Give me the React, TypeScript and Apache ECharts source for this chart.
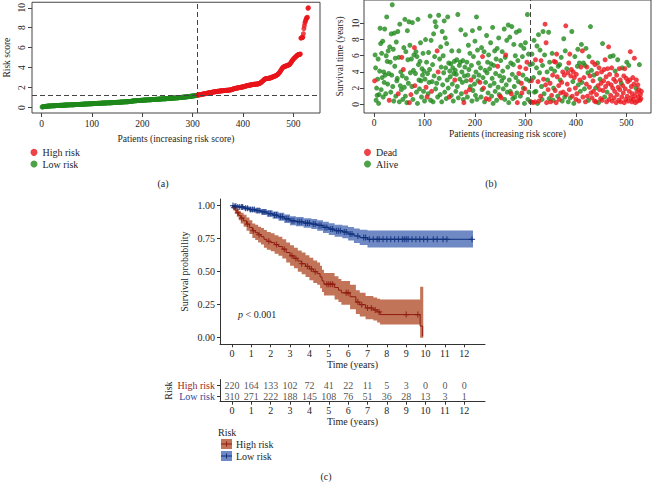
import React, { useEffect, useRef } from "react";
import * as echarts from "echarts";

// ---------- Panel (a): sorted risk scores (patients 1..530) ----------
const riskScores = [
  0.05, 0.07, 0.08, 0.09, 0.10, 0.11, 0.11, 0.12, 0.12, 0.13,
  0.13, 0.14, 0.14, 0.15, 0.15, 0.15, 0.16, 0.16, 0.16, 0.17,
  0.17, 0.17, 0.18, 0.18, 0.18, 0.19, 0.19, 0.19, 0.20, 0.20,
  0.20, 0.20, 0.21, 0.21, 0.21, 0.22, 0.22, 0.22, 0.22, 0.23,
  0.23, 0.23, 0.23, 0.24, 0.24, 0.24, 0.24, 0.25, 0.25, 0.25,
  0.25, 0.26, 0.26, 0.26, 0.26, 0.27, 0.27, 0.27, 0.27, 0.28,
  0.28, 0.28, 0.28, 0.29, 0.29, 0.29, 0.29, 0.30, 0.30, 0.30,
  0.30, 0.31, 0.31, 0.31, 0.31, 0.32, 0.32, 0.32, 0.32, 0.33,
  0.33, 0.33, 0.34, 0.34, 0.34, 0.34, 0.35, 0.35, 0.35, 0.36,
  0.36, 0.36, 0.36, 0.37, 0.37, 0.37, 0.38, 0.38, 0.38, 0.39,
  0.39, 0.39, 0.39, 0.40, 0.40, 0.40, 0.41, 0.41, 0.41, 0.41,
  0.42, 0.42, 0.42, 0.42, 0.43, 0.43, 0.43, 0.43, 0.44, 0.44,
  0.44, 0.44, 0.45, 0.45, 0.45, 0.45, 0.46, 0.46, 0.46, 0.46,
  0.47, 0.47, 0.47, 0.47, 0.48, 0.48, 0.48, 0.48, 0.49, 0.49,
  0.49, 0.49, 0.50, 0.50, 0.50, 0.51, 0.51, 0.51, 0.52, 0.52,
  0.52, 0.52, 0.53, 0.53, 0.53, 0.54, 0.54, 0.54, 0.55, 0.55,
  0.55, 0.56, 0.56, 0.56, 0.57, 0.57, 0.57, 0.58, 0.58, 0.58,
  0.59, 0.59, 0.59, 0.60, 0.60, 0.61, 0.61, 0.62, 0.63, 0.64,
  0.65, 0.66, 0.66, 0.67, 0.67, 0.68, 0.68, 0.69, 0.69, 0.70,
  0.70, 0.70, 0.71, 0.71, 0.71, 0.72, 0.72, 0.72, 0.73, 0.73,
  0.73, 0.74, 0.74, 0.74, 0.75, 0.75, 0.75, 0.76, 0.76, 0.76,
  0.77, 0.77, 0.77, 0.78, 0.78, 0.78, 0.79, 0.79, 0.79, 0.80,
  0.80, 0.80, 0.81, 0.81, 0.81, 0.82, 0.82, 0.82, 0.83, 0.83,
  0.83, 0.84, 0.84, 0.84, 0.85, 0.85, 0.85, 0.86, 0.86, 0.86,
  0.87, 0.87, 0.87, 0.88, 0.88, 0.88, 0.89, 0.89, 0.89, 0.90,
  0.90, 0.90, 0.91, 0.91, 0.92, 0.92, 0.92, 0.93, 0.93, 0.94,
  0.94, 0.94, 0.95, 0.95, 0.96, 0.96, 0.96, 0.97, 0.97, 0.98,
  0.98, 0.99, 0.99, 1.00, 1.00, 1.01, 1.01, 1.02, 1.02, 1.03,
  1.03, 1.04, 1.04, 1.05, 1.05, 1.06, 1.07, 1.07, 1.08, 1.08,
  1.09, 1.10, 1.10, 1.11, 1.12, 1.12, 1.13, 1.14, 1.15, 1.15,
  1.16, 1.17, 1.18, 1.18, 1.19, 1.20, 1.21, 1.22, 1.23, 1.24,
  1.25, 1.26, 1.27, 1.28, 1.29, 1.30, 1.31, 1.32, 1.33, 1.34,
  1.35, 1.36, 1.37, 1.38, 1.39, 1.40, 1.41, 1.42, 1.43, 1.44,
  1.45, 1.46, 1.47, 1.48, 1.49, 1.50, 1.51, 1.52, 1.53, 1.54,
  1.55, 1.56, 1.57, 1.58, 1.58, 1.59, 1.60, 1.61, 1.62, 1.62,
  1.63, 1.64, 1.65, 1.65, 1.66, 1.67, 1.67, 1.68, 1.68, 1.69,
  1.69, 1.70, 1.70, 1.71, 1.71, 1.72, 1.72, 1.73, 1.73, 1.74,
  1.74, 1.75, 1.75, 1.76, 1.76, 1.77, 1.78, 1.80, 1.82, 1.84,
  1.86, 1.88, 1.90, 1.91, 1.92, 1.93, 1.94, 1.95, 1.96, 1.97,
  1.98, 1.99, 2.00, 2.01, 2.02, 2.03, 2.04, 2.05, 2.06, 2.07,
  2.08, 2.09, 2.10, 2.12, 2.14, 2.16, 2.18, 2.19, 2.20, 2.21,
  2.22, 2.23, 2.24, 2.25, 2.26, 2.27, 2.28, 2.29, 2.30, 2.31,
  2.32, 2.33, 2.33, 2.34, 2.34, 2.35, 2.35, 2.36, 2.36, 2.37,
  2.38, 2.40, 2.42, 2.45, 2.48, 2.52, 2.56, 2.60, 2.65, 2.70,
  2.75, 2.80, 2.84, 2.86, 2.88, 2.89, 2.90, 2.90, 2.91, 2.92,
  2.93, 2.94, 2.95, 2.96, 2.98, 3.00, 3.02, 3.04, 3.06, 3.08,
  3.10, 3.12, 3.14, 3.16, 3.18, 3.20, 3.24, 3.28, 3.32, 3.36,
  3.42, 3.48, 3.55, 3.62, 3.70, 3.78, 3.86, 3.94, 4.00, 4.05,
  4.08, 4.10, 4.12, 4.14, 4.16, 4.18, 4.20, 4.22, 4.24, 4.26,
  4.28, 4.30, 4.34, 4.40, 4.48, 4.56, 4.64, 4.72, 4.78, 4.84,
  4.90, 4.95, 5.00, 5.05, 5.10, 5.15, 5.20, 5.25, 5.28, 5.30,
  5.30, 5.32, 5.34, 5.36, 6.95, 6.98, 7.00, 7.02, 7.05, 7.40,
  7.90, 8.20, 8.50, 8.65, 8.80, 8.95, 9.00, 9.05, 9.95, 10.00,
];
const cutoffIndex = 310;
const cutoffScore = 1.25;

// ---------- Panel (b): survival time (years) and status (1 = dead) ----------
const survTimes = [
  2.9, 6.1, 4.5, 0.5, 2.0, 1.1, 3.1, 5.6, 0.1, 1.2,
  4.1, 9.4, 7.5, 1.8, 6.3, 3.3, 7.8, 0.9, 4.0, 2.7,
  9.3, 3.6, 1.3, 6.0, 10.8, 5.3, 2.5, 6.6, 3.8, 0.5,
  7.1, 5.2, 1.5, 8.7, 3.6, 12.3, 2.2, 6.8, 0.4, 8.8,
  4.7, 5.7, 1.0, 7.7, 2.9, 3.2, 9.0, 1.3, 5.8, 0.3,
  9.9, 2.3, 4.0, 1.8, 5.8, 3.5, 0.6, 4.3, 7.0, 2.1,
  10.5, 1.0, 6.5, 3.2, 0.2, 9.1, 5.5, 2.6, 10.2, 0.2,
  7.3, 3.9, 1.2, 5.6, 2.2, 10.1, 0.6, 4.2, 6.1, 7.0,
  2.3, 3.8, 6.5, 1.5, 5.9, 0.1, 10.5, 4.9, 3.0, 1.9,
  5.3, 7.6, 2.9, 0.9, 4.4, 3.6, 6.3, 1.6, 4.1, 0.4,
  3.1, 8.0, 2.1, 5.2, 0.9, 3.8, 1.3, 6.4, 2.7, 4.3,
  10.9, 0.5, 7.9, 1.6, 2.8, 4.9, 0.3, 8.7, 3.5, 5.9,
  10.2, 1.9, 9.6, 2.6, 6.6, 0.9, 4.0, 11.0, 3.2, 5.6,
  1.2, 7.1, 4.6, 0.3, 9.0, 2.4, 6.0, 3.9, 10.3, 1.5,
  8.2, 4.5, 0.7, 7.5, 3.0, 10.8, 2.0, 5.1, 0.9, 4.1,
  3.4, 5.0, 1.1, 6.6, 2.5, 4.5, 0.4, 3.8, 5.3, 3.0,
  4.2, 1.6, 3.7, 5.5, 2.2, 11.1, 0.8, 6.6, 4.8, 3.1,
  5.2, 9.2, 1.3, 4.0, 2.7, 5.4, 0.6, 0.2, 3.5, 4.6,
  8.6, 1.5, 2.9, 5.2, 0.9, 3.6, 7.3, 4.3, 1.8, 6.3,
  2.2, 3.0, 4.8, 0.4, 9.1, 1.7, 5.9, 3.4, 2.5, 7.8,
  1.1, 4.0, 10.8, 0.6, 6.7, 2.9, 5.1, 3.6, 9.4, 2.7,
  4.5, 0.9, 7.0, 1.8, 5.9, 3.3, 2.0, 6.5, 0.3, 4.2,
  2.7, 0.7, 8.5, 3.9, 5.2, 1.4, 6.1, 0.6, 4.4, 2.3,
  7.6, 5.0, 1.0, 3.2, 9.5, 0.1, 4.8, 2.6, 6.6, 1.6,
  3.8, 5.6, 0.5, 6.9, 4.7, 2.1, 8.2, 1.2, 3.5, 1.0,
  5.4, 0.8, 2.9, 6.5, 4.1, 1.9, 3.3, 9.3, 0.6, 5.8,
  6.1, 2.4, 7.9, 1.5, 4.6, 9.8, 0.2, 3.0, 8.3, 1.6,
  5.1, 1.3, 9.6, 3.7, 0.7, 4.9, 7.4, 2.2, 0.9, 6.0,
  3.3, 8.9, 1.4, 0.2, 5.4, 2.8, 3.8, 9.1, 4.6, 1.0,
  7.3, 2.6, 1.4, 5.9, 3.6, 2.0, 6.9, 0.1, 1.9, 7.6,
  4.4, 3.1, 5.2, 11.1, 0.6, 6.2, 1.5, 2.9, 4.9, 0.3,
  0.3, 2.9, 6.2, 5.0, 0.2, 3.3, 7.9, 1.5, 0.3, 5.5,
  1.6, 4.5, 7.2, 0.1, 2.8, 8.6, 0.4, 3.9, 6.7, 1.0,
  5.4, 2.2, 0.6, 4.8, 9.0, 3.1, 1.3, 6.1, 9.9, 2.4,
  7.6, 0.2, 4.0, 3.0, 1.8, 8.9, 0.7, 5.2, 2.6, 0.3,
  4.4, 1.1, 6.3, 3.6, 0.5, 2.0, 5.3, 4.1, 1.7, 5.2,
  0.2, 6.2, 3.4, 1.0, 4.7, 2.3, 0.6, 4.9, 3.0, 1.4,
  5.8, 2.7, 0.4, 4.0, 1.5, 8.1, 3.6, 0.9, 6.6, 9.7,
  1.2, 4.4, 2.5, 3.9, 0.3, 5.1, 1.8, 6.2, 0.8, 3.5,
  4.3, 9.0, 1.0, 2.8, 4.0, 0.1, 3.3, 5.9, 2.0, 0.6,
  3.7, 1.3, 4.7, 6.8, 2.4, 0.4, 5.1, 3.0, 1.6, 4.6,
  7.4, 2.7, 6.6, 0.9, 5.1, 3.3, 1.9, 4.8, 0.3, 6.9,
  2.5, 4.6, 1.0, 3.9, 0.5, 5.9, 2.1, 3.5, 9.6, 1.4,
  4.2, 0.8, 5.2, 2.9, 1.6, 3.6, 0.4, 4.9, 2.0, 0.3,
  1.2, 3.8, 5.1, 2.3, 0.2, 4.5, 1.8, 3.1, 0.7, 2.6,
  4.0, 0.5, 7.5, 1.7, 2.9, 4.3, 0.9, 5.5, 2.2, 3.4,
  0.3, 1.5, 4.4, 2.6, 7.1, 0.6, 3.7, 5.9, 1.1, 2.4,
  4.5, 0.4, 2.0, 6.0, 3.1, 0.8, 1.6, 4.1, 2.8, 0.2,
  3.6, 1.2, 5.5, 2.1, 0.5, 4.4, 1.8, 3.0, 0.3, 2.6,
  0.9, 4.5, 2.3, 1.4, 3.5, 0.2, 4.4, 1.9, 0.6, 3.2,
  5.2, 1.0, 2.8, 0.4, 4.8, 1.6, 3.0, 6.5, 0.8, 2.2,
  0.3, 1.3, 3.3, 0.6, 2.5, 5.7, 1.0, 0.2, 2.0, 3.0,
  1.5, 0.4, 2.4, 0.9, 1.8, 4.9, 0.5, 1.2, 0.7, 1.6,
];
const deadStatus = [
  1,0,0,0,0,0,0,0,0,0, 0,0,0,0,0,0,0,0,0,0, 0,0,0,0,0,0,0,0,0,1,
  0,0,0,0,0,0,0,0,0,0, 0,0,0,0,0,0,0,1,0,0, 0,0,0,0,1,0,0,1,0,0,
  0,0,0,0,0,0,0,0,0,1, 0,0,1,0,0,0,0,0,0,1, 1,0,0,0,0,0,0,0,0,0,
  0,0,0,0,0,0,0,0,0,0, 0,0,1,0,1,0,0,0,0,0, 0,0,0,1,0,0,0,0,0,0,
  0,0,0,0,1,0,1,0,0,0, 0,0,0,0,0,0,0,0,0,0, 0,0,0,0,0,0,0,0,1,0,
  0,0,0,0,0,0,0,0,0,1, 0,0,0,0,0,0,0,0,0,0, 0,0,0,0,0,0,0,1,0,0,
  0,1,0,0,0,0,0,0,1,0, 0,1,0,0,0,0,0,0,0,0, 0,0,0,0,0,0,0,0,0,1,
  0,0,0,0,1,0,1,0,0,0, 0,1,0,0,0,0,0,1,0,0, 0,0,0,0,0,0,0,0,0,0,
  0,0,0,0,1,0,0,0,0,1, 0,1,0,0,0,0,0,0,0,0, 1,0,0,0,0,0,0,0,0,0,
  0,1,0,0,0,0,0,0,0,0, 0,0,0,1,0,0,1,0,1,0, 0,1,1,0,0,0,0,0,1,0,
  1,0,1,0,0,0,0,0,0,0, 1,1,0,0,1,0,0,0,1,1, 0,0,0,0,1,0,1,0,0,1,
  1,0,0,0,0,1,0,0,1,1, 1,1,0,0,1,0,0,0,1,1, 0,1,0,1,0,0,1,0,1,1,
  1,1,1,0,0,1,1,0,0,1, 0,1,0,1,1,0,1,0,0,1, 1,0,1,1,0,1,1,1,0,1,
  1,0,1,0,1,0,1,0,1,1, 1,1,0,0,0,1,0,1,0,1, 0,0,1,1,0,1,0,0,1,0,
  1,1,1,0,0,0,1,1,0,1, 0,1,1,1,1,0,1,1,0,1, 1,1,0,1,0,1,1,0,1,1,
  1,1,0,1,1,1,0,1,1,1, 1,0,1,1,1,1,1,0,1,1, 1,1,1,0,1,1,1,0,1,1,
  1,1,0,1,1,1,1,1,1,0, 1,0,1,1,1,1,1,1,1,1, 0,1,1,1,0,1,1,1,1,1,
  1,1,1,1,1,1,1,1,0,1, 1,1,1,1,1,0,1,1,1,1,
];

// ---------- Panel (c): Kaplan-Meier estimates ----------
const kmHighTime = [0, 0.05, 0.15, 0.25, 0.35, 0.45, 0.6, 0.75, 0.9, 1.05, 1.2, 1.35, 1.5, 1.65, 1.8, 2.0, 2.2, 2.4, 2.6, 2.8, 3.0, 3.2, 3.4, 3.6, 3.8, 4.0, 4.2, 4.4, 4.55, 4.65, 4.75, 5.3, 5.5, 5.65, 6.1, 6.4, 6.6, 6.9, 7.3, 7.5, 7.65, 9.72, 9.85];
const kmHighSurv = [1, 0.985, 0.965, 0.945, 0.925, 0.905, 0.885, 0.86, 0.835, 0.81, 0.795, 0.78, 0.765, 0.745, 0.73, 0.72, 0.705, 0.69, 0.67, 0.645, 0.62, 0.6, 0.58, 0.56, 0.54, 0.52, 0.5, 0.485, 0.46, 0.43, 0.405, 0.38, 0.36, 0.34, 0.31, 0.27, 0.25, 0.225, 0.21, 0.195, 0.175, 0.088, 0.01];
const kmHighLower = [1, 0.97, 0.94, 0.915, 0.89, 0.865, 0.84, 0.81, 0.785, 0.755, 0.74, 0.72, 0.705, 0.68, 0.665, 0.655, 0.635, 0.62, 0.6, 0.57, 0.545, 0.525, 0.5, 0.48, 0.46, 0.435, 0.415, 0.4, 0.375, 0.345, 0.32, 0.29, 0.27, 0.25, 0.215, 0.18, 0.16, 0.14, 0.13, 0.115, 0.1, 0, 0];
const kmHighUpper = [1, 1, 0.99, 0.975, 0.96, 0.945, 0.93, 0.91, 0.89, 0.865, 0.855, 0.84, 0.83, 0.815, 0.8, 0.79, 0.775, 0.765, 0.745, 0.72, 0.7, 0.68, 0.66, 0.645, 0.625, 0.605, 0.585, 0.57, 0.545, 0.515, 0.49, 0.465, 0.445, 0.43, 0.4, 0.36, 0.34, 0.315, 0.305, 0.295, 0.29, 0.385, 0.385];
const kmHighEnd = 9.88;
const kmLowTime = [0, 0.1, 0.3, 0.6, 0.9, 1.2, 1.5, 1.8, 2.1, 2.4, 2.7, 3.0, 3.3, 3.7, 4.1, 4.4, 4.7, 5.0, 5.3, 5.7, 6.0, 6.3, 6.6, 7.0, 12.45];
const kmLowSurv = [1, 0.995, 0.99, 0.98, 0.97, 0.962, 0.952, 0.94, 0.928, 0.915, 0.9, 0.885, 0.878, 0.868, 0.86, 0.85, 0.835, 0.822, 0.81, 0.8, 0.785, 0.77, 0.758, 0.745, 0.745];
const kmLowLower = [1, 0.99, 0.98, 0.965, 0.952, 0.942, 0.93, 0.915, 0.9, 0.885, 0.868, 0.852, 0.843, 0.832, 0.822, 0.81, 0.793, 0.778, 0.764, 0.752, 0.735, 0.717, 0.702, 0.683, 0.683];
const kmLowUpper = [1, 1, 1, 0.995, 0.988, 0.982, 0.975, 0.965, 0.955, 0.945, 0.932, 0.92, 0.913, 0.905, 0.898, 0.89, 0.877, 0.866, 0.856, 0.849, 0.838, 0.826, 0.817, 0.812, 0.812];
const kmLowEnd = 12.45;
const censorHigh = [0.1, 0.3, 0.5, 0.8, 1.1, 1.4, 1.9, 2.3, 2.7, 3.1, 3.3, 3.6, 3.9, 4.1, 4.3, 4.9, 5.0, 5.1, 5.2, 5.9, 6.0, 6.5, 6.7, 7.0, 7.2, 7.4, 7.6, 9.0, 9.6];
const censorLow = [0.05, 0.15, 0.2, 0.3, 0.4, 0.5, 0.55, 0.7, 0.8, 0.95, 1.05, 1.15, 1.3, 1.4, 1.6, 1.7, 1.9, 2.0, 2.2, 2.3, 2.5, 2.6, 2.8, 2.9, 3.1, 3.2, 3.4, 3.5, 3.6, 3.8, 3.9, 4.0, 4.2, 4.3, 4.5, 4.6, 4.8, 4.9, 5.1, 5.2, 5.4, 5.5, 5.6, 5.8, 5.9, 6.1, 6.2, 6.5, 6.8, 6.9, 7.1, 7.3, 7.5, 7.6, 7.8, 8.0, 8.2, 8.4, 8.6, 8.8, 8.9, 9.0, 9.1, 9.3, 9.5, 9.7, 9.9, 10.1, 10.4, 10.6, 10.9, 11.1, 12.4];
const tableTimes = [0, 1, 2, 3, 4, 5, 6, 7, 8, 9, 10, 11, 12];
const atRiskHigh = [220, 164, 133, 102, 72, 41, 22, 11, 5, 3, 0, 0, 0];
const atRiskLow = [310, 271, 222, 188, 145, 108, 76, 51, 36, 28, 13, 3, 1];
const pValueLabel = "< 0.001";

const FONT = "'Liberation Serif', 'DejaVu Serif', serif";
const RED = "#E8151C";
const GREEN = "#1F8A1C";
const HI_LINE = "#8E1C10";
const HI_BAND = "#C27459";
const LO_LINE = "#10307C";
const LO_BAND = "#6E89C4";
const INK = "#1e1e1e";
const PLUS = "path://M4,0H6V4H10V6H6V10H4V6H0V4H4Z";

function survAt(times: number[], surv: number[], t: number) {
  let v = surv[0];
  for (let i = 0; i < times.length; i++) if (times[i] <= t) v = surv[i];
  return v;
}

// one custom-series item per band; the polygon is built through api.coord
function bandSeries(name: string, times: number[], lower: number[], upper: number[], end: number, color: string) {
  return {
    name,
    type: "custom",
    xAxisIndex: 2,
    yAxisIndex: 2,
    silent: true,
    z: 1,
    data: [[times[0], lower[0]]],
    renderItem: (_params: any, api: any) => {
      const pts: number[][] = [];
      const n = times.length;
      for (let i = 0; i < n; i++) {
        const t1 = i + 1 < n ? times[i + 1] : end;
        pts.push(api.coord([times[i], upper[i]]));
        pts.push(api.coord([t1, upper[i]]));
      }
      for (let i = n - 1; i >= 0; i--) {
        const t1 = i + 1 < n ? times[i + 1] : end;
        pts.push(api.coord([t1, lower[i]]));
        pts.push(api.coord([times[i], lower[i]]));
      }
      return { type: "polygon", shape: { points: pts }, style: { fill: color, stroke: null } };
    },
  };
}

function buildOption() {
  const lowPts: number[][] = [];
  const highPts: number[][] = [];
  riskScores.forEach((s, i) => {
    const idx = i + 1;
    (idx <= cutoffIndex ? lowPts : highPts).push([idx, s]);
  });
  const alivePts: number[][] = [];
  const deadPts: number[][] = [];
  survTimes.forEach((t, i) => {
    (deadStatus[i] === 1 ? deadPts : alivePts).push([i + 1, t]);
  });

  const frameAxisCommon = (ticks: number[], rotate = 0, margin = 5) => ({
    axisLine: { show: false, onZero: false },
    splitLine: { show: false },
    axisTick: { show: true, length: 4, lineStyle: { color: "#444" }, customValues: ticks },
    axisLabel: { customValues: ticks, fontSize: 9.5, color: INK, fontFamily: FONT, rotate, margin },
    nameTextStyle: { fontSize: 9.5, color: INK, fontFamily: FONT },
    nameLocation: "middle" as const,
  });

  const kmAxis = {
    axisLine: { show: true, onZero: false, lineStyle: { color: "#333", width: 1 } },
    splitLine: { show: false },
    nameTextStyle: { fontSize: 10, color: INK, fontFamily: FONT },
    nameLocation: "middle" as const,
  };

  const tableData = [
    ...tableTimes.map((t, i) => [t, "High risk", atRiskHigh[i]]),
    ...tableTimes.map((t, i) => [t, "Low risk", atRiskLow[i]]),
  ];

  const hiLineData = kmHighTime.map((t, i) => [t, kmHighSurv[i]]);
  const loLineData = kmLowTime.map((t, i) => [t, kmLowSurv[i]]);

  return {
    animation: false,
    backgroundColor: "#ffffff",
    textStyle: { fontFamily: FONT },
    grid: [
      { left: 32, top: 1, width: 288, height: 112, show: true, borderColor: "#444", borderWidth: 1, backgroundColor: "transparent" },
      { left: 364, top: 0, width: 287, height: 113, show: true, borderColor: "#444", borderWidth: 1, backgroundColor: "transparent" },
      { left: 220, top: 199, width: 265, height: 145.3 },
      { left: 220, top: 379.5, width: 265, height: 22.2 },
    ],
    xAxis: [
      { gridIndex: 0, type: "value", min: -19, max: 553, name: "Patients (increasing risk score)", nameGap: 21, ...frameAxisCommon([0, 100, 200, 300, 400, 500], 0, 6) },
      { gridIndex: 1, type: "value", min: -20, max: 549, name: "Patients (increasing risk score)", nameGap: 16, ...frameAxisCommon([0, 100, 200, 300, 400, 500], 0, 5) },
      {
        gridIndex: 2, type: "value", min: -0.62, max: 13.07, name: "Time (years)", nameGap: 14, ...kmAxis,
        axisTick: { show: true, length: 3, lineStyle: { color: "#333" }, customValues: tableTimes },
        axisLabel: { customValues: tableTimes, fontSize: 10, color: INK, fontFamily: FONT, margin: 4 },
      },
      {
        gridIndex: 3, type: "value", min: -0.62, max: 13.07, name: "Time (years)", nameGap: 15, ...kmAxis,
        axisTick: { show: true, length: 3, lineStyle: { color: "#333" }, customValues: tableTimes },
        axisLabel: { customValues: tableTimes, fontSize: 10, color: INK, fontFamily: FONT, margin: 4 },
      },
    ],
    yAxis: [
      { gridIndex: 0, type: "value", min: -0.55, max: 10.55, name: "Risk score", nameGap: 20, nameRotate: 90, ...frameAxisCommon([0, 2, 4, 6, 8, 10], 90, 5) },
      { gridIndex: 1, type: "value", min: -1.08, max: 12.89, name: "Survival time (years)", nameGap: 19, nameRotate: 90, ...frameAxisCommon([0, 2, 4, 6, 8, 10], 90, 3) },
      {
        gridIndex: 2, type: "value", min: -0.05, max: 1.05, name: "Survival probability", nameGap: 31, nameRotate: 90, ...kmAxis,
        axisTick: { show: true, length: 3, lineStyle: { color: "#333" }, customValues: [0, 0.25, 0.5, 0.75, 1] },
        axisLabel: { customValues: [0, 0.25, 0.5, 0.75, 1], fontSize: 10, color: INK, fontFamily: FONT, margin: 5, formatter: (v: number) => v.toFixed(2) },
      },
      {
        gridIndex: 3, type: "category", data: ["Low risk", "High risk"], name: "Risk", nameGap: 44, nameRotate: 90, ...kmAxis,
        axisTick: { show: true, length: 3, alignWithLabel: true, lineStyle: { color: "#333" } },
        axisLabel: {
          interval: 0, fontSize: 10, fontFamily: FONT, margin: 5,
          color: (v: string) => (v === "High risk" ? "#9A2A1C" : "#2A4A9A"),
        },
      },
    ],
    legend: [
      {
        data: ["High risk", "Low risk"], left: 30.5, top: 146.5, orient: "vertical", icon: "circle",
        itemWidth: 7, itemHeight: 7, itemGap: 0, padding: 0, selectedMode: false,
        textStyle: { fontSize: 10, color: INK, fontFamily: FONT, lineHeight: 11.7 },
      },
      {
        data: ["Dead", "Alive"], left: 364, top: 146.5, orient: "vertical", icon: "circle",
        itemWidth: 7, itemHeight: 7, itemGap: 0, padding: 0, selectedMode: false,
        textStyle: { fontSize: 10, color: INK, fontFamily: FONT, lineHeight: 11.7 },
      },
    ],
    series: [
      {
        name: "Low risk", type: "scatter", xAxisIndex: 0, yAxisIndex: 0, symbolSize: 5,
        itemStyle: { color: GREEN }, data: lowPts,
        markLine: {
          silent: true, symbol: "none", label: { show: false },
          lineStyle: { type: [5, 3], color: "#444", width: 1 },
          data: [{ xAxis: cutoffIndex }, { yAxis: cutoffScore }],
        },
      },
      { name: "High risk", type: "scatter", xAxisIndex: 0, yAxisIndex: 0, symbolSize: 5, itemStyle: { color: RED }, data: highPts },
      {
        name: "Alive", type: "scatter", xAxisIndex: 1, yAxisIndex: 1, symbolSize: 5,
        itemStyle: { color: GREEN }, data: alivePts,
        markLine: {
          silent: true, symbol: "none", label: { show: false },
          lineStyle: { type: [5, 3], color: "#444", width: 1 },
          data: [{ xAxis: cutoffIndex }],
        },
      },
      { name: "Dead", type: "scatter", xAxisIndex: 1, yAxisIndex: 1, symbolSize: 5, itemStyle: { color: RED }, data: deadPts },
      bandSeries("km-high-band", kmHighTime, kmHighLower, kmHighUpper, kmHighEnd, HI_BAND),
      bandSeries("km-low-band", kmLowTime, kmLowLower, kmLowUpper, kmLowEnd, LO_BAND),
      {
        name: "km-high-line", type: "line", xAxisIndex: 2, yAxisIndex: 2, step: "end", symbol: "none",
        lineStyle: { color: HI_LINE, width: 1 }, data: hiLineData, z: 3,
      },
      {
        name: "km-low-line", type: "line", xAxisIndex: 2, yAxisIndex: 2, step: "end", symbol: "none",
        lineStyle: { color: LO_LINE, width: 1 }, data: loLineData, z: 3,
      },
      {
        name: "km-high-censor", type: "scatter", xAxisIndex: 2, yAxisIndex: 2, symbol: PLUS, symbolSize: 6,
        itemStyle: { color: HI_LINE }, data: censorHigh.map((t) => [t, survAt(kmHighTime, kmHighSurv, t)]), z: 4,
      },
      {
        name: "km-low-censor", type: "scatter", xAxisIndex: 2, yAxisIndex: 2, symbol: PLUS, symbolSize: 6,
        itemStyle: { color: LO_LINE }, data: censorLow.map((t) => [t, survAt(kmLowTime, kmLowSurv, t)]), z: 4,
      },
      {
        name: "risk-table", type: "scatter", xAxisIndex: 3, yAxisIndex: 3, symbolSize: 0.01,
        itemStyle: { color: "transparent" }, data: tableData,
        label: {
          show: true, position: "inside", fontSize: 10, color: "#222", fontFamily: FONT,
          formatter: (p: any) => String(p.value[2]),
        },
      },
    ],
    graphic: [
      { type: "text", z: 10, x: 163, y: 183, style: { text: "(a)", fontSize: 10, fontFamily: FONT, fill: INK, align: "center", verticalAlign: "middle" } },
      { type: "text", z: 10, x: 491, y: 183, style: { text: "(b)", fontSize: 10, fontFamily: FONT, fill: INK, align: "center", verticalAlign: "middle" } },
      { type: "text", z: 10, x: 326, y: 476, style: { text: "(c)", fontSize: 10, fontFamily: FONT, fill: INK, align: "center", verticalAlign: "middle" } },
      {
        type: "text", z: 10, x: 238, y: 314,
        style: {
          text: "{i|p} " + pValueLabel, fontSize: 10, fontFamily: FONT, fill: INK, verticalAlign: "middle",
          rich: { i: { fontStyle: "italic", fontSize: 10, fontFamily: FONT, fill: INK } },
        },
      },
      { type: "text", z: 10, x: 218, y: 432, style: { text: "Risk", fontSize: 10, fontFamily: FONT, fill: INK, verticalAlign: "middle" } },
      { type: "rect", z: 10, shape: { x: 221, y: 439, width: 11, height: 10 }, style: { fill: HI_BAND } },
      { type: "line", z: 11, shape: { x1: 221, y1: 444, x2: 232, y2: 444 }, style: { stroke: HI_LINE, lineWidth: 1 } },
      { type: "line", z: 11, shape: { x1: 226.5, y1: 441.5, x2: 226.5, y2: 446.5 }, style: { stroke: HI_LINE, lineWidth: 1 } },
      { type: "text", z: 10, x: 236, y: 444, style: { text: "High risk", fontSize: 10, fontFamily: FONT, fill: INK, verticalAlign: "middle" } },
      { type: "rect", z: 10, shape: { x: 221, y: 451, width: 11, height: 10 }, style: { fill: LO_BAND } },
      { type: "line", z: 11, shape: { x1: 221, y1: 456, x2: 232, y2: 456 }, style: { stroke: LO_LINE, lineWidth: 1 } },
      { type: "line", z: 11, shape: { x1: 226.5, y1: 453.5, x2: 226.5, y2: 458.5 }, style: { stroke: LO_LINE, lineWidth: 1 } },
      { type: "text", z: 10, x: 236, y: 456, style: { text: "Low risk", fontSize: 10, fontFamily: FONT, fill: INK, verticalAlign: "middle" } },
    ],
  };
}

export default function App() {
  const ref = useRef<HTMLDivElement>(null);
  useEffect(() => {
    if (!ref.current) return;
    const chart = echarts.init(ref.current, null, { renderer: "svg" });
    chart.setOption(buildOption() as any);
    return () => chart.dispose();
  }, []);
  return (
    <div
      ref={ref}
      style={{ position: "fixed", left: 0, top: 0, width: 652, height: 482, background: "#fff" }}
    />
  );
}
